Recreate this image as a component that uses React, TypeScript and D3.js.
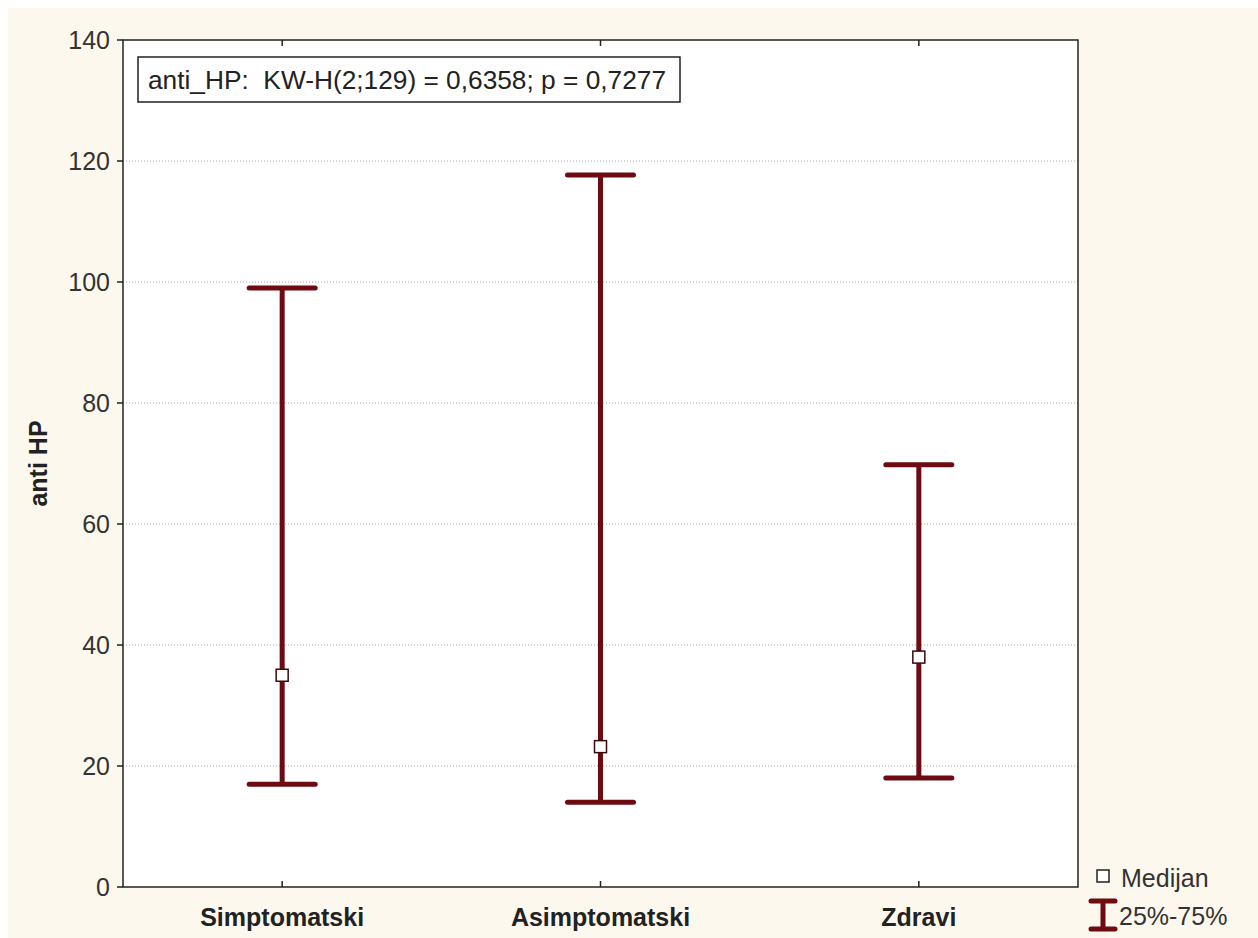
import * as d3 from "d3";

const groups = ["Simptomatski", "Asimptomatski", "Zdravi"];
const q1 = [17, 14, 18];
const q3 = [99, 117.7, 69.8];
const medians = [35, 23.2, 38];
const yTicks = [0, 20, 40, 60, 80, 100, 120, 140];
const statText = "anti_HP:  KW-H(2;129) = 0,6358; p = 0,7277";
const legendMedian = "Medijan";
const legendRange = "25%-75%";
const yTitle = "anti HP";

const width = 1250;
const height = 930;
const marginLeft = 115;
const marginRight = 180;
const marginTop = 32;
const marginBottom = 51;

const red = "#6d0a12";
const font = "'Liberation Sans', Arial, sans-serif";

export default function App() {
  const x = d3
    .scalePoint<string>()
    .domain(groups)
    .range([marginLeft, width - marginRight])
    .padding(0.5);

  const y = d3
    .scaleLinear()
    .domain([0, 140])
    .range([height - marginBottom, marginTop]);

  const left = marginLeft;
  const right = width - marginRight;
  const top = marginTop;
  const bottom = height - marginBottom;
  const capHalf = 33;

  return (
    <>
      <style>{"body{margin:8px 0 0 8px;overflow:hidden;}"}</style>
      <svg width={width} height={height} style={{ display: "block", background: "#fdf8ee" }}>
        <rect x={left} y={top} width={right - left} height={bottom - top} fill="#ffffff" />

        {/* grid */}
        {yTicks
          .filter((t) => t > 0 && t < 140)
          .map((t) => (
            <line
              key={"g" + t}
              x1={left}
              x2={right}
              y1={y(t)}
              y2={y(t)}
              stroke="#a8a8a8"
              strokeWidth={1}
              strokeDasharray="1,2"
            />
          ))}

        {/* y ticks & labels */}
        {yTicks.map((t) => (
          <g key={"t" + t}>
            <line x1={left - 6} x2={left} y1={y(t)} y2={y(t)} stroke="#222" strokeWidth={1.5} />
            <text
              x={left - 13}
              y={y(t)}
              dy="0.35em"
              textAnchor="end"
              fontFamily={font}
              fontSize={25}
              fill="#333"
            >
              {t}
            </text>
          </g>
        ))}

        {/* x ticks (inside, top & bottom) */}
        {groups.map((g) => (
          <g key={"x" + g}>
            <line x1={x(g)} x2={x(g)} y1={bottom} y2={bottom - 6} stroke="#222" strokeWidth={1.5} />
            <line x1={x(g)} x2={x(g)} y1={top} y2={top + 6} stroke="#222" strokeWidth={1.5} />
            <text
              x={x(g)}
              y={bottom + 39}
              textAnchor="middle"
              fontFamily={font}
              fontWeight="bold"
              fontSize={25}
              fill="#222"
            >
              {g}
            </text>
          </g>
        ))}

        {/* frame */}
        <rect
          x={left}
          y={top}
          width={right - left}
          height={bottom - top}
          fill="none"
          stroke="#222"
          strokeWidth={1.5}
        />

        {/* whiskers */}
        {groups.map((g, i) => {
          const cx = x(g)!;
          return (
            <g key={"w" + g} stroke={red} strokeWidth={5}>
              <line x1={cx} x2={cx} y1={y(q1[i])} y2={y(q3[i])} />
              <line x1={cx - capHalf} x2={cx + capHalf} y1={y(q1[i])} y2={y(q1[i])} strokeLinecap="round" />
              <line x1={cx - capHalf} x2={cx + capHalf} y1={y(q3[i])} y2={y(q3[i])} strokeLinecap="round" />
            </g>
          );
        })}

        {/* medians */}
        {groups.map((g, i) => (
          <rect
            key={"m" + g}
            x={x(g)! - 6}
            y={y(medians[i]) - 6}
            width={12}
            height={12}
            fill="#ffffff"
            stroke="#3a0a0c"
            strokeWidth={1.5}
          />
        ))}

        {/* stats box */}
        <rect x={130} y={49} width={542} height={45} fill="#ffffff" stroke="#222" strokeWidth={1.5} />
        <text
          x={140}
          y={81}
          fontFamily={font}
          fontSize={25}
          fill="#222"
          style={{ whiteSpace: "pre" }}
          textLength={518}
          lengthAdjust="spacingAndGlyphs"
        >
          {statText}
        </text>

        {/* y axis title */}
        <text
          transform={`translate(39,${(top + bottom) / 2}) rotate(-90)`}
          textAnchor="middle"
          fontFamily={font}
          fontWeight="bold"
          fontSize={25}
          fill="#222"
        >
          {yTitle}
        </text>

        {/* legend */}
        <rect x={1089} y={862} width={12} height={12} fill="#ffffff" stroke="#222" strokeWidth={1.5} />
        <text x={1113} y={879} fontFamily={font} fontSize={25} fill="#333">
          {legendMedian}
        </text>
        <g stroke={red} strokeWidth={5}>
          <line x1={1095} x2={1095} y1={893} y2={921} />
          <line x1={1083} x2={1107} y1={893} y2={893} strokeLinecap="round" />
          <line x1={1083} x2={1107} y1={921} y2={921} strokeLinecap="round" />
        </g>
        <text x={1111} y={917} fontFamily={font} fontSize={25} fill="#333">
          {legendRange}
        </text>
      </svg>
    </>
  );
}
